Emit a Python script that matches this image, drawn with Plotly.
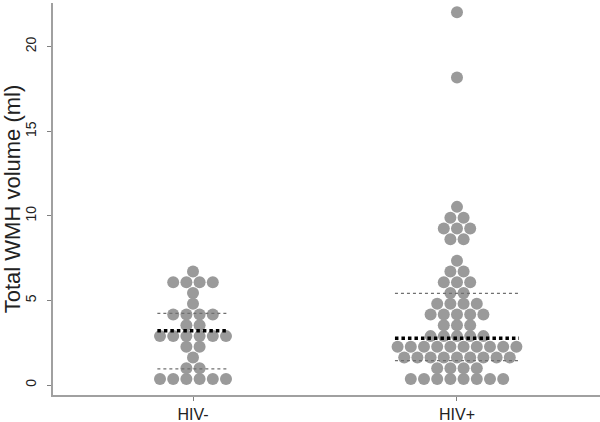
import plotly.graph_objects as go

groups = ["HIV-", "HIV+"]

# dot-plot bins (ml) and number of subjects in each bin
hiv_neg_bins = [0.35, 0.99, 1.62, 2.26, 2.89, 3.53, 4.17, 4.80, 5.44, 6.07, 6.71]
hiv_neg_counts = [6, 2, 1, 2, 6, 2, 4, 1, 1, 4, 1]

hiv_pos_bins = [0.35, 0.99, 1.62, 2.26, 2.89, 3.53, 4.17, 4.80, 5.44, 6.07, 6.71,
                7.35, 8.62, 9.25, 9.89, 10.53, 18.17, 22.03]
hiv_pos_counts = [8, 4, 9, 10, 5, 3, 5, 4, 2, 3, 2, 1, 2, 3, 2, 1, 1, 1]

# summary lines: median, 25th, 75th percentile
medians = [3.21, 2.76]
q1 = [0.95, 1.44]
q3 = [4.23, 5.42]
line_halfwidth = [0.135, 0.235]

dot_step = 0.05
dot_color = "#9a9a9a"

fig = go.Figure()

for gi, (bins, counts) in enumerate([(hiv_neg_bins, hiv_neg_counts),
                                     (hiv_pos_bins, hiv_pos_counts)]):
    xs, ys = [], []
    center = gi + 1
    for v, n in zip(bins, counts):
        for i in range(n):
            xs.append(center + (i - (n - 1) / 2) * dot_step)
            ys.append(v)
    fig.add_trace(go.Scatter(x=xs, y=ys, mode="markers",
                             marker=dict(size=12, color=dot_color, line=dict(width=0)),
                             showlegend=False, hoverinfo="y"))

for gi in range(2):
    c = gi + 1
    hw = line_halfwidth[gi]
    for val, col, w, dash in [(q1[gi], "#707070", 1.3, "3px,3px"),
                              (q3[gi], "#707070", 1.3, "3px,3px"),
                              (medians[gi], "#000000", 3.5, "3.5px,3px")]:
        fig.add_trace(go.Scatter(x=[c - hw, c + hw], y=[val, val], mode="lines",
                                 line=dict(color=col, width=w, dash=dash),
                                 showlegend=False, hoverinfo="skip"))

fig.update_layout(
    width=600, height=422,
    margin=dict(l=53, r=0, t=3, b=27, autoexpand=False),
    plot_bgcolor="white", paper_bgcolor="white",
    font=dict(family="Liberation Sans, Arial, sans-serif", color="#222222"),
    xaxis=dict(range=[0.4697, 2.5417], tickvals=[1, 2], ticktext=groups,
               showgrid=False, zeroline=False, showline=True, linecolor="#a0a0a0",
               linewidth=1.5, ticks="outside", ticklen=4, tickcolor="#808080",
               tickfont=dict(size=16), automargin=False),
    yaxis=dict(range=[-0.59, 22.58], tickvals=[0, 5, 10, 15, 20],
               showgrid=False, zeroline=False, showline=True, linecolor="#a0a0a0",
               linewidth=1.5, ticks="outside", ticklen=4, tickcolor="#808080",
               tickangle=-90, tickfont=dict(size=14), ticklabelstandoff=6,
               automargin=False,
               title=dict(text="Total WMH volume (ml)", font=dict(size=22), standoff=4)),
)

fig.write_html("out.html", config={"displayModeBar": False},
               post_script="document.body.style.margin='0';")
